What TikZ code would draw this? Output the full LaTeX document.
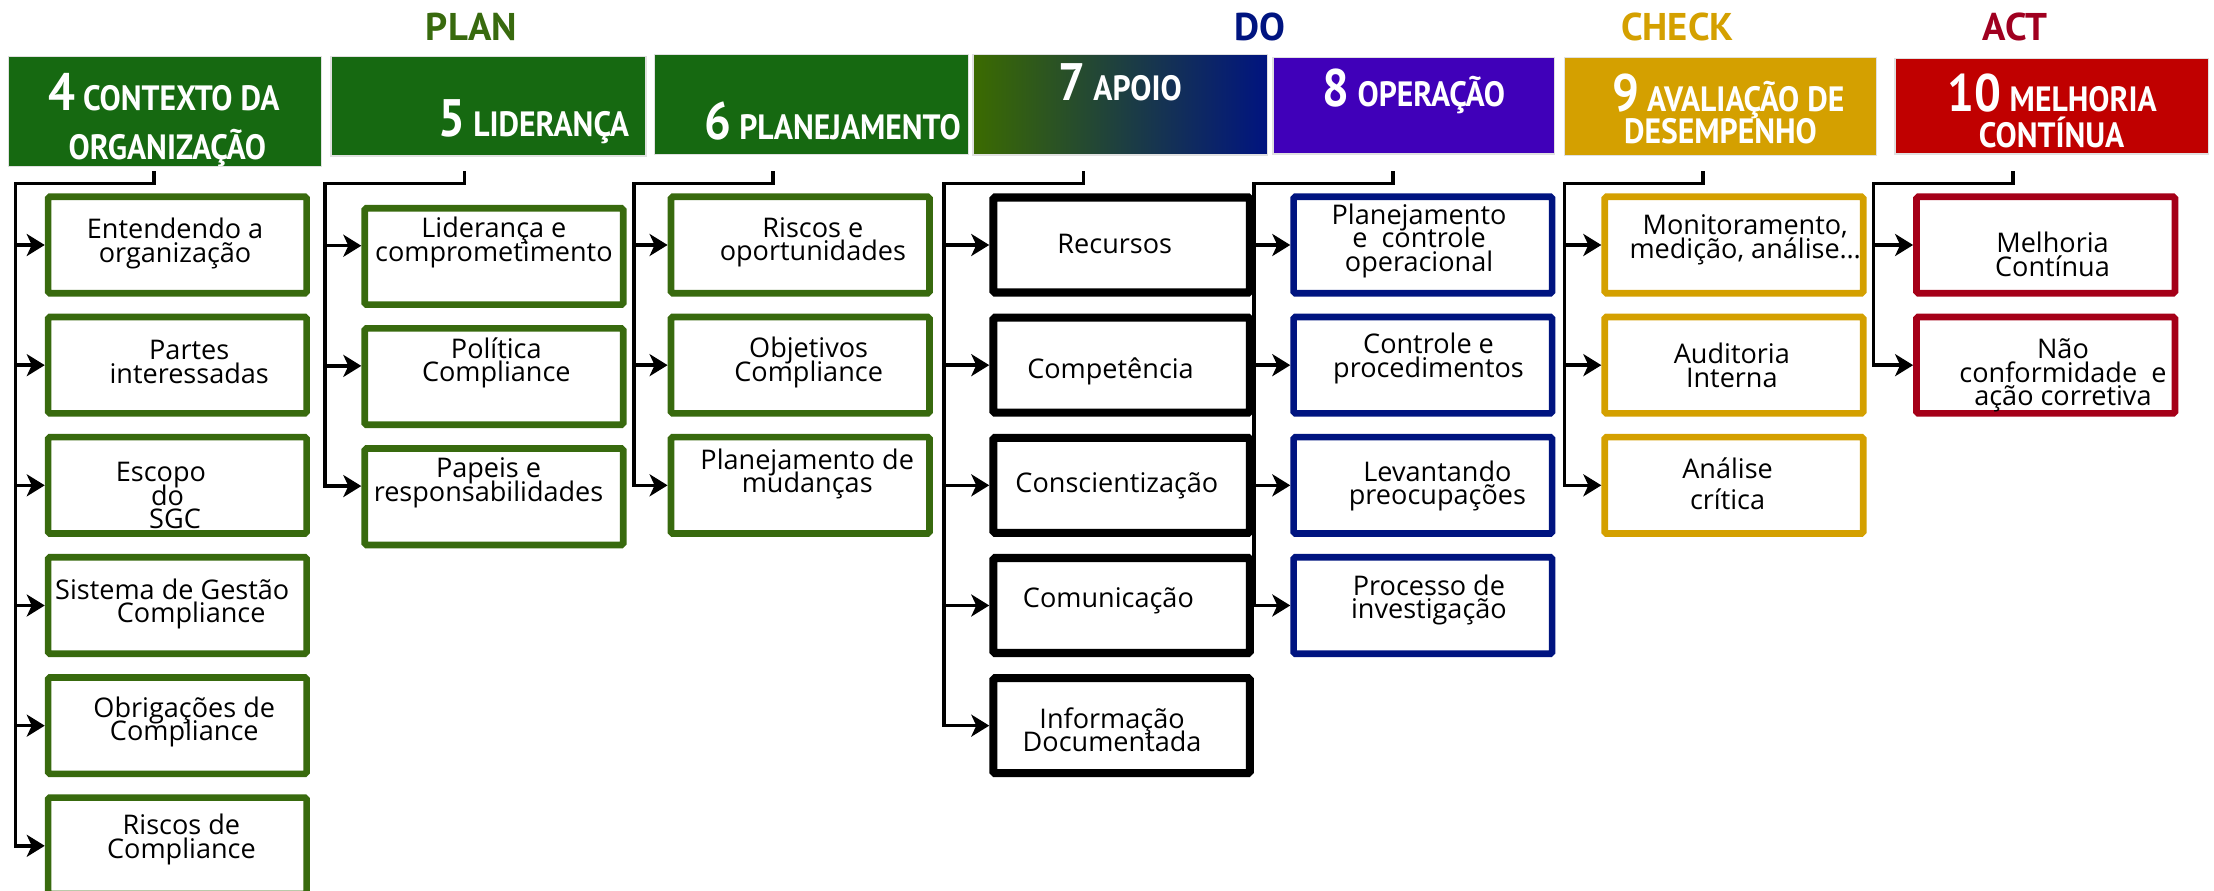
\documentclass[tikz,border=0pt]{standalone}
\usepackage{fontspec}
\setmainfont{Open Sans}
\newfontfamily\hdfont{PT Sans}
\newfontfamily\hdcfont{PT Sans}[FakeStretch=0.9]
\usetikzlibrary{arrows.meta}

\definecolor{hgreen}{RGB}{22,105,17}
\definecolor{bgreen}{RGB}{56,106,14}
\definecolor{navy}{RGB}{0,20,128}
\definecolor{olive}{RGB}{59,107,0}
\definecolor{hpurple}{RGB}{64,0,185}
\definecolor{gold}{RGB}{212,160,0}
\definecolor{hred}{RGB}{192,0,0}
\definecolor{bred}{RGB}{165,0,24}
\definecolor{tred}{RGB}{160,0,32}

\newcommand{\itemfont}{\fontsize{7.7}{6.7}\selectfont\lineskiplimit=-10pt}
\newcommand{\hnum}[1]{{\fontsize{15}{15}\selectfont #1}}

\tikzset{
  head/.style={draw=black!12, line width=0.4pt, inner sep=0pt},
  htxt/.style={text=white, font=\hdcfont\bfseries\fontsize{10}{11}\selectfont, inner sep=0pt, text height=2.4mm, text depth=0pt},
  phase/.style={font=\hdfont\bfseries\fontsize{11}{12}\selectfont, anchor=base},
  item/.style={draw, line width=1.9pt, minimum width=25.85mm, minimum height=9.64mm, inner sep=0pt, rounded corners=0.5pt},
  blackitem/.style={item, draw=black, line width=2.3pt, minimum width=25.65mm, minimum height=9.5mm},
  itxt/.style={align=center, font=\itemfont, inner sep=0pt},
  link/.style={line width=1pt},
  arr/.style={link, -{Stealth[length=1.8mm, width=2.2mm, inset=0.5mm]}},
}

\begin{document}
\begin{tikzpicture}[x=0.1412mm, y=-0.1412mm]
\useasboundingbox (0,0) rectangle (1568,631);

% PDCA
\node[phase, text=bgreen] (plan) at (334,28.5) {PLAN};
\node[phase, text=navy] (do) at (892,28.5) {DO};
\node[phase, text=gold] (check) at (1188,28.5) {CHECK};
\node[phase, text=tred] (act) at (1427,28.5) {ACT};

% clauses
\node[head, fill=hgreen, minimum width=31.3mm, minimum height=11mm,
  label={[htxt, shift={(-0.7,-9.5)}]center:{\hnum{4} CONTEXTO DA}},
  label={[htxt, shift={(1.8,25.5)}]center:ORGANIZAÇÃO}] (h4) at (116.7,79) {};
\node[head, fill=hgreen, minimum width=31.5mm, minimum height=9.95mm,
  label={[htxt, shift={(32,13.3)}]center:{\hnum{5} LIDERANÇA}}] (h5) at (346,75.2) {};
\node[head, fill=hgreen, minimum width=31.4mm, minimum height=10mm,
  label={[htxt, shift={(15,16.5)}]center:{\hnum{6} PLANEJAMENTO}}] (h6) at (574.6,73.9) {};
\node[head, left color=olive, right color=navy, minimum width=29.46mm, minimum height=10.07mm,
  label={[htxt, shift={(0,-11.5)}]center:{\hnum{7} APOIO}}] (h7) at (793.3,74.1) {};
\node[head, fill=hpurple, minimum width=28.16mm, minimum height=9.66mm,
  label={[htxt, shift={(0,-8)}]center:{\hnum{8} OPERAÇÃO}}] (h8) at (1001.3,74.8) {};
\node[head, fill=gold, minimum width=31.2mm, minimum height=9.84mm,
  label={[htxt, shift={(5.5,-4.9)}]center:{\hnum{9} AVALIAÇÃO DE}},
  label={[htxt, shift={(0,17.5)}]center:DESEMPENHO}] (h9) at (1218.5,75.4) {};
\node[head, fill=hred, minimum width=31.35mm, minimum height=9.56mm,
  label={[htxt, shift={(0.5,-4.7)}]center:{\hnum{10} MELHORIA}},
  label={[htxt, shift={(0,20.5)}]center:CONTÍNUA}] (h10) at (1453,75.2) {};

% 4
\coordinate (t4) at (109,122.5);
\coordinate (s4) at (11,130);
\foreach \dx/\dy/\txt [count=\xi] in {
    -1.6/-1/{Entendendo a\\organização},
    8.4/-2.4/{Partes\\interessadas},
    -11.6/7.3/{Escopo\\\hspace*{3.7pt}do\\\hspace*{8pt}SGC},
    -3.6/-1/{Sistema de Gestão\\\hspace*{1.4em}Compliance},
    4.9/-2.7/{Obrigações de\\Compliance},
    2.9/-4.5/{Riscos de\\Compliance}%
}{
    \node[item, draw=bgreen, label={[itxt, shift={(\dx,\dy)}]center:\txt}] (ctx\xi) at (125.6,{173.5+85.1*(\xi-1)}) {};
    \draw[arr] (s4 |- ctx\xi.west) -- (ctx\xi.west);
}
\draw[link, line cap=rect] (t4) |- (s4) -- (s4 |- ctx6.west);

% 5
\coordinate (t5) at (329,122.5);
\coordinate (s5) at (230,130);
\foreach \dx/\txt [count=\xi] in {
    0/{Liderança e\\comprometimento},
    1.7/{Política\\Compliance},
    -3.8/{Papeis e\\responsabilidades}%
}{
    \node[item, draw=bgreen, label={[itxt, shift={(\dx,-9.7)}]center:\txt}] (lid\xi) at (349.8,{181.6+85.1*(\xi-1)}) {};
    \coordinate (lidin\xi) at ([yshift=1.07mm]lid\xi.west);
    \draw[arr] (s5 |- lidin\xi) -- (lidin\xi);
}
\draw[link, line cap=rect] (t5) |- (s5) -- (s5 |- lidin3);

% 6
\coordinate (t6) at (547.6,122.5);
\coordinate (s6) at (449,130);
\foreach \dx/\dy/\txt [count=\xi] in {
    9/-2/{Riscos e\\oportunidades},
    6/-2/{Objetivos\\Compliance},
    5/-8/{Planejamento de\\mudanças}%
}{
    \node[item, draw=bgreen, label={[itxt, shift={(\dx,\dy)}]center:\txt}] (pla\xi) at (566.7,{173.5+85.1*(\xi-1)}) {};
    \draw[arr] (s6 |- pla\xi.west) -- (pla\xi.west);
}
\draw[link, line cap=rect] (t6) |- (s6) -- (s6 |- pla3.west);

% 7
\coordinate (t7) at (767.5,122.5);
\coordinate (s7) at (668.7,130);
\foreach \dx/\dy/\txt [count=\xi] in {
    -4.8/-0.5/{Recursos},
    -7.8/4.4/{Competência},
    -3.3/0/{Conscientização},
    -9.3/-3.3/{Comunicação},
    -6.7/3/{Informação\\Documentada}%
}{
    \node[blackitem, label={[itxt, shift={(\dx,\dy)}]center:\txt}] (apo\xi) at (794.3,{173.5+85.1*(\xi-1)}) {};
    \draw[arr] (s7 |- apo\xi.west) -- (apo\xi.west);
}
\draw[link, line cap=rect] (t7) |- (s7) -- (s7 |- apo5.west);

% 8
\coordinate (t8) at (986.6,122.5);
\coordinate (s8) at (888,130);
\foreach \dx/\dy/\txt [count=\xi] in {
    -2.7/-2.9/{Planejamento\\e~~controle\\operacional},
    4/-4.9/{Controle e\\procedimentos},
    10.3/0.3/{Levantando\\preocupações},
    4.3/-3.8/{Processo de\\investigação}%
}{
    \node[item, draw=navy, label={[itxt, shift={(\dx,\dy)}]center:\txt}] (ope\xi) at (1007.7,{173.5+85.1*(\xi-1)}) {};
    \draw[arr] (s8 |- ope\xi.west) -- (ope\xi.west);
}
\draw[link, line cap=rect] (t8) |- (s8) -- (s8 |- ope4.west);

% 9
\coordinate (t9) at (1206,122.5);
\coordinate (s9) at (1108,130);
\foreach \dx/\dy/\txt [count=\xi] in {
    8/-3.5/{Monitoramento,\\medição, análise…},
    -1.5/0/{Auditoria\\Interna},
    -4.5/-1.2/{Análise\\[0.8mm]crítica}%
}{
    \node[item, draw=gold, label={[itxt, shift={(\dx,\dy)}]center:\txt}] (ava\xi) at (1228,{173.5+85.1*(\xi-1)}) {};
    \draw[arr] (s9 |- ava\xi.west) -- (ava\xi.west);
}
\draw[link, line cap=rect] (t9) |- (s9) -- (s9 |- ava3.west);

% 10
\coordinate (t10) at (1425.7,122.5);
\coordinate (s10) at (1327,130);
\foreach \dx/\dy/\txt [count=\xi] in {
    4.8/6.5/{Melhoria\\Contínua},
    12.2/7.4/{Não\\conformidade~~e\\ação corretiva}%
}{
    \node[item, draw=bred, label={[itxt, shift={(\dx,\dy)}]center:\txt}] (mel\xi) at (1448.8,{173.5+85.1*(\xi-1)}) {};
    \draw[arr] (s10 |- mel\xi.west) -- (mel\xi.west);
}
\draw[link, line cap=rect] (t10) |- (s10) -- (s10 |- mel2.west);

\end{tikzpicture}
\end{document}
